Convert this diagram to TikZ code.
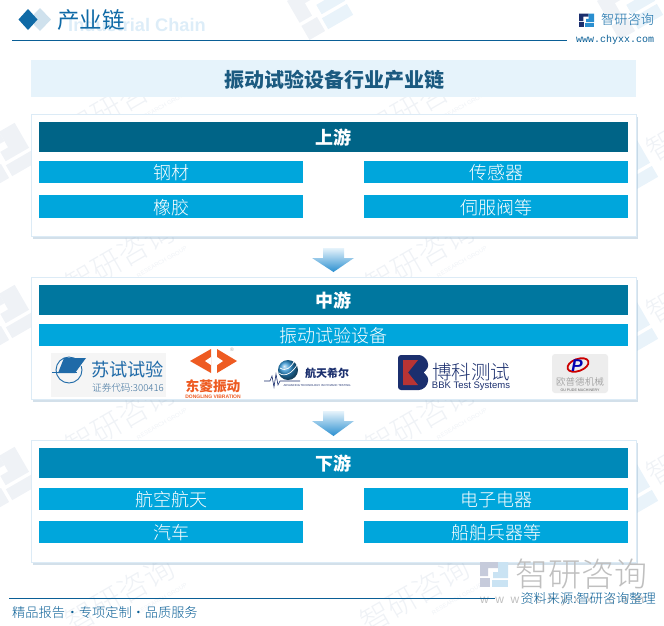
\documentclass[tikz,border=0pt]{standalone}
\usepackage{fontspec}
\setmainfont{Noto Sans CJK SC}
\newfontfamily\thinfont{Noto Sans CJK SC}[UprightFont=* Light]
\newfontfamily\latinfont{Liberation Sans}
\newfontfamily\urlfont{Liberation Mono}
\usepackage{tikz}
\usetikzlibrary{%
calc,%
shadows,%
shadings,%
backgrounds}
\definecolor{brandblue}{HTML}{0F6AA6}
\definecolor{lineblue}{HTML}{0A5F96}
\definecolor{bandblue}{HTML}{E6F3FB}
\definecolor{engblue}{HTML}{DDEDF8}
\definecolor{titleblue}{HTML}{1B5A80}
\definecolor{panelline}{HTML}{DCEBF6}
\definecolor{panelshade}{HTML}{9DBAD0}
\definecolor{itemblue}{HTML}{00A6DC}
\definecolor{headone}{HTML}{006487}
\definecolor{headtwo}{HTML}{00779F}
\definecolor{headthree}{HTML}{0089B8}
\definecolor{wmgray}{HTML}{EFF2F6}
\definecolor{wmblue}{HTML}{E9F3FA}
\definecolor{dongorange}{HTML}{EE5B22}
\definecolor{bbknavy}{HTML}{1B2F6E}
\definecolor{bbkred}{HTML}{B83434}
\definecolor{suzblue}{HTML}{1F6AA8}
\definecolor{markblue}{HTML}{2A8FD0}
\newcommand{\wg}{\hspace{6.5pt}}
\tikzset{
  panelbox/.style={draw=panelline,line width=1pt,fill=white,minimum width=605pt,minimum height=122pt,
    drop shadow={shadow xshift=1.5pt,shadow yshift=-2.5pt,fill=panelshade,opacity=.45}},
  headbar/.style={minimum width=589pt,minimum height=30pt,inner sep=0pt,text=white,text height=15.6pt,text depth=0pt,
    font=\fontsize{18}{18}\selectfont\bfseries},
  itembar/.style={fill=itemblue,minimum width=264pt,minimum height=22.5pt,inner sep=0pt,text=white,text height=15.6pt,text depth=0pt,
    font=\thinfont\fontsize{18}{18}\selectfont},
  widebar/.style={itembar,minimum width=589pt},
  watermark/.style={text=wmgray,rotate=30,inner sep=0pt,font=\thinfont\fontsize{30}{30}\selectfont},
  wmsmall/.style={text=wmgray,rotate=30,inner sep=0pt,font=\latinfont\fontsize{6}{6}\selectfont},
  flowarrow/.style={top color=bandblue,bottom color=markblue,draw=none},
  footnote/.style={text=lineblue,inner sep=0pt,font=\thinfont\fontsize{13.2}{13.2}\selectfont},
  pics/pzlogo/.style 2 args={code={
    \fill[#1] (0,0) -- (18,0) -- (18,6) -- (8,6) -- (8,14) -- (0,14) -- cycle;
    \fill[#1] (0,16) rectangle (10,25);
    \fill[#2] (18,0) -- (28,0) -- (28,16) -- (13,16) -- (13,10) -- (18,10) -- cycle;
    \fill[#2] (12,18) -- (28,18) -- (28,25) -- (12,25) -- cycle;
  }}
}
\begin{document}
\begin{tikzpicture}[x=1pt,y=-1pt]
\useasboundingbox (0,0) rectangle (664,625);
% watermarks
\foreach \wx/\wy in {120/103,420/103,120/258,420/258,120/420,420/420,120/595,415/595}{
  \node[watermark] at (\wx,\wy) {智研咨询};
  \node[wmsmall] at ($(\wx,\wy)+(42,4)$) {RESEARCH GROUP};
}
\foreach \wy in {148,310,472}{
  \pic[rotate=30,scale=1.8] at (-29,\wy) {pzlogo={wmgray}{wmgray}};
  \pic[rotate=30,scale=1.8] at (592,\wy+15) {pzlogo={wmgray}{wmblue}};
  \node[watermark,anchor=west] at (649,\wy+5) {智研};
}
\pic[rotate=30,scale=1.8] at (287,1) {pzlogo={wmgray}{wmblue}};
\pic[rotate=30,scale=1.8] at (597,1) {pzlogo={wmgray}{wmblue}};
% header
\node[text=engblue,inner sep=0pt,anchor=west,font=\latinfont\bfseries\fontsize{18.2}{18.2}\selectfont] (engtitle) at (68,24.5) {Industrial Chain};
\fill[brandblue!20] (40,8) -- (51,19.5) -- (40,31) -- (29,19.5) -- cycle;
\fill[brandblue] (28,9) -- (37.5,19.5) -- (28,30) -- (18.5,19.5) -- cycle;
\node[text=brandblue,inner sep=0pt,anchor=west,font=\fontsize{22.5}{22.5}\selectfont] (pagetitle) at (57,20) {产业链};
\draw[lineblue,line width=1pt] (12,40.5) -- (567,40.5);
\pic[scale=.54] at (579,13.5) {pzlogo={bbknavy}{markblue}};
\node[text=brandblue,inner sep=0pt,anchor=west,font=\thinfont\fontsize{13.2}{13.2}\selectfont] (brandname) at (601,20) {智研咨询};
\node[text=lineblue,inner sep=0pt,anchor=west,font=\urlfont\fontsize{10}{10}\selectfont] (brandurl) at (576,40) {www.chyxx.com};
\node[fill=bandblue,minimum width=605pt,minimum height=37pt,inner sep=0pt,text=titleblue,text height=17.4pt,text depth=0pt,
  font=\fontsize{20}{20}\selectfont\bfseries] (maintitle) at (333.5,78.5) {\hspace{2pt}振动试验设备行业产业链};
% upstream
\node[panelbox] (upbox) at (333.5,175) {};
\node[headbar,fill=headone] (uphead) at (333.5,137) {上游};
\node[itembar] (steel) at (171,172) {钢材};
\node[itembar] (sensor) at (496,172) {传感器};
\node[itembar] (rubber) at (171,206.5) {橡胶};
\node[itembar] (valve) at (496,206.5) {伺服阀等};
\shade[flowarrow] (323,248) -- (344,248) -- (344,258) -- (354,258) -- (333.5,272) -- (312,258) -- (323,258) -- cycle;
% midstream
\node[panelbox] (midbox) at (333.5,338.5) {};
\node[headbar,fill=headtwo] (midhead) at (333.5,300) {中游};
\node[widebar] (equip) at (333.5,335) {振动试验设备};
% su shi logo
\fill[black!4] (51,353) rectangle (166,397);
\draw[suzblue,line width=.9pt] (69,370) circle (13);
\fill[black!4] (76,357) rectangle (84,366);
\fill[suzblue] (64,358) -- (86,358) -- (75,373) -- (58,373) -- cycle;
\fill[suzblue] (52,371.5) rectangle (77,373);
\node[text=suzblue,inner sep=0pt,font=\fontsize{18.2}{18.2}\selectfont] (sushiname) at (127.5,370) {苏试试验};
\node[text=suzblue!70!gray,inner sep=0pt,font=\thinfont\fontsize{9.6}{9.6}\selectfont] (sushicode) at (128,388) {证券代码:300416};
% dongling logo
\fill[dongorange] (211,349) -- (190,361) -- (211,373) -- cycle;
\fill[white] (211,357) -- (205,361) -- (211,365) -- cycle;
\fill[dongorange] (217,349) -- (237,361) -- (217,373) -- cycle;
\fill[white] (217,357) -- (223,361) -- (217,365) -- cycle;
\node[text=black!35,inner sep=0pt,font=\latinfont\fontsize{5}{5}\selectfont] (dongreg) at (232,350) {®};
\node[text=dongorange,inner sep=0pt,font=\fontsize{13.7}{13.7}\selectfont\bfseries] (dongname) at (213,386) {东菱振动};
\node[text=dongorange,inner sep=0pt,font=\latinfont\bfseries\fontsize{5}{5}\selectfont] (dongsub) at (213,397) {DONGLING VIBRATION};
% hangtian logo
\shade[ball color=markblue] (288,370) circle (10);
\draw[white,line width=.7pt] (279,373) .. controls (285,378) and (293,372) .. (297,365);
\draw[white,line width=.7pt] (280,368) .. controls (286,372) and (291,367) .. (294,362);
\draw[bbknavy,line width=.6pt] (264,381) -- (270,381) -- (272,376) -- (274,387) -- (276,374) -- (278,385) -- (280,381) -- (300,381);
\node[text=bbknavy,inner sep=0pt,font=\fontsize{11}{11}\selectfont\bfseries] (hangname) at (327,373) {航天希尔};
\node[text=bbknavy,inner sep=0pt,font=\latinfont\fontsize{2.8}{3}\selectfont] (hangsub) at (317,386) {ADVANCING TECHNOLOGY IN DYNAMIC TESTING};
% bbk logo
\fill[bbknavy,rounded corners=3pt] (398,355) -- (422,355) -- (428,361) -- (428,369) -- (424,372.5) -- (428,376) -- (428,384) -- (422,390) -- (398,390) -- cycle;
\fill[bbkred] (403,360) -- (418,360) -- (408,372.5) -- (418,385) -- (403,385) -- cycle;
\fill[white] (428,368) -- (424,372.5) -- (428,377) -- cycle;
\node[text=bbknavy,inner sep=0pt,font=\thinfont\fontsize{19.5}{19.5}\selectfont] (bbkname) at (471,372) {博科测试};
\node[text=bbknavy,inner sep=0pt,font=\latinfont\fontsize{9.5}{9.5}\selectfont] (bbksub) at (471,386) {BBK Test Systems};
% oupude logo
\fill[black!7,rounded corners=3pt] (552,354) rectangle (608,393);
\draw[red!80!black,line width=1.8pt,rotate around={20:(578,365)}] (578,365) ellipse (11 and 6);
\node[text=blue!70!black,inner sep=0pt,font=\latinfont\bfseries\itshape\fontsize{17}{17}\selectfont] (oupmark) at (577,366) {P};
\node[text=black!45,inner sep=0pt,font=\thinfont\fontsize{9.6}{9.6}\selectfont] (oupname) at (580,382) {欧普德机械};
\node[text=black!60,inner sep=0pt,font=\latinfont\fontsize{3.6}{4}\selectfont] (oupsub) at (580,390) {OU PUDE MACHINERY};
\shade[flowarrow] (323,411) -- (344,411) -- (344,421) -- (354,421) -- (333.5,436) -- (312,421) -- (323,421) -- cycle;
% downstream
\node[panelbox] (downbox) at (333.5,501) {};
\node[headbar,fill=headthree] (downhead) at (333.5,463) {下游};
\node[itembar] (aero) at (171,499) {航空航天};
\node[itembar] (electric) at (496,499) {电子电器};
\node[itembar] (auto) at (171,532) {汽车};
\node[itembar] (ship) at (496,532) {船舶兵器等};
% footer
\pic at (480,562) {pzlogo={bbknavy!25}{markblue!25}};
\node[text=black!25,inner sep=0pt,anchor=west,font=\thinfont\fontsize{33}{33}\selectfont] (bigbrand) at (515,574) {智研咨询};
\node[text=black!25,inner sep=0pt,anchor=west,font=\latinfont\fontsize{12}{12}\selectfont] (bigurl) at (480,600) {w\wg w\wg w\wg .\wg c\wg h\wg y\wg x\wg x\wg .\wg c\wg o\wg m};
\draw[lineblue,line width=1pt] (9,598.5) -- (495,598.5);
\node[footnote,anchor=west] (slogan) at (12,613) {精品报告\hspace{-2pt} · \hspace{-3pt}专项定制\hspace{-3pt} · \hspace{-3pt}品质服务};
\node[footnote,anchor=east] (source) at (656,599) {资料来源:智研咨询整理};
\end{tikzpicture}
\end{document}
